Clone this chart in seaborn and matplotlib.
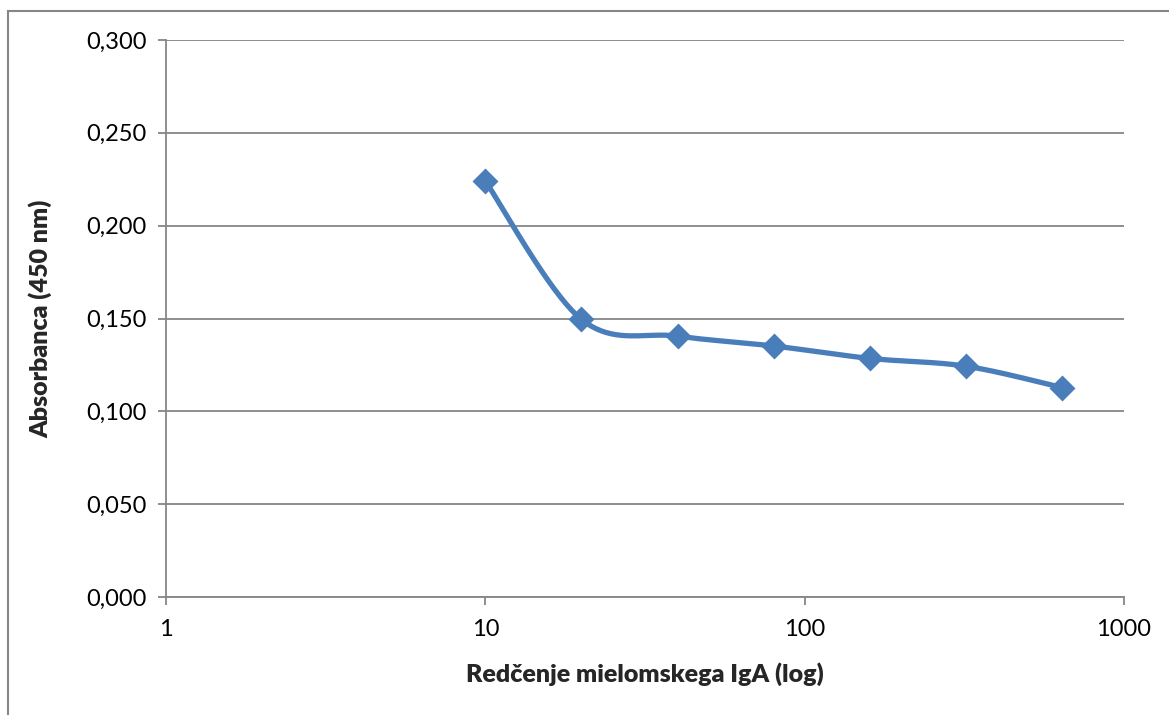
import numpy as np
import pandas as pd
import matplotlib
matplotlib.use("Agg")
import matplotlib.pyplot as plt
from matplotlib.patches import Rectangle
import seaborn as sns

# Dilution series and measured absorbance
dilution = [10, 20, 40, 80, 160, 320, 640]
absorbance = [0.224, 0.1495, 0.1405, 0.1352, 0.1285, 0.1243, 0.1128]
y_ticks = [0.0, 0.05, 0.10, 0.15, 0.20, 0.25, 0.30]
x_ticks = [1, 10, 100, 1000]
x_label = "Redčenje mielomskega IgA (log)"
y_label = "Absorbanca (450 nm)"

df = pd.DataFrame({"dilution": dilution, "absorbance": absorbance})

sns.set_theme(style="white")
plt.rcParams["font.family"] = ["Lato", "DejaVu Sans"]

W, H, DPI = 1169, 715, 100
fig = plt.figure(figsize=(W / DPI, H / DPI), dpi=DPI)
ax = fig.add_axes([166 / W, 1 - 597 / H, (1124 - 166) / W, (597 - 40) / H])

line_color = "#4A7EBB"
grid_color = "#868686"

ax.set_xscale("log")
ax.set_xlim(1, 1000)
ax.set_ylim(0, 0.30)

# Markers through seaborn
sns.scatterplot(data=df, x="dilution", y="absorbance", ax=ax, marker="D",
                s=175, color=line_color, edgecolor=line_color, linewidth=0,
                zorder=4, legend=False)

# Smoothed connecting line (Catmull-Rom Bezier in display space)
fig.canvas.draw()
pts = ax.transData.transform(np.column_stack([dilution, absorbance]))
n = len(pts)
curve = []
t = np.linspace(0, 1, 40)
for i in range(n - 1):
    p0 = pts[i - 1] if i > 0 else pts[i]
    p1 = pts[i]
    p2 = pts[i + 1]
    p3 = pts[i + 2] if i + 2 < n else pts[i + 1]
    c1 = p1 + (p2 - p0) / 6.0
    c2 = p2 - (p3 - p1) / 6.0
    seg = ((1 - t) ** 3)[:, None] * p1 + (3 * (1 - t) ** 2 * t)[:, None] * c1 \
        + (3 * (1 - t) * t ** 2)[:, None] * c2 + (t ** 3)[:, None] * p2
    curve.append(seg if i == 0 else seg[1:])
curve = np.vstack(curve)
data_curve = ax.transData.inverted().transform(curve)
ax.plot(data_curve[:, 0], data_curve[:, 1], color=line_color, lw=3.8,
        solid_capstyle="round", zorder=3)

# Axes styling
ax.set_yticks(y_ticks)
ax.set_yticklabels([f"{v:.3f}".replace(".", ",") for v in y_ticks])
ax.set_xticks(x_ticks)
ax.set_xticklabels([str(v) for v in x_ticks])
ax.xaxis.set_minor_locator(matplotlib.ticker.NullLocator())
ax.grid(axis="y", color=grid_color, lw=1.3)
ax.grid(axis="x", visible=False)
ax.set_axisbelow(True)
for side in ["top", "right"]:
    ax.spines[side].set_visible(False)
for side in ["left", "bottom"]:
    ax.spines[side].set_color(grid_color)
    ax.spines[side].set_linewidth(1.3)
ax.tick_params(axis="both", which="major", length=6, width=1.3, color=grid_color,
               labelsize=17, labelcolor="black", direction="out")
ax.tick_params(axis="y", pad=8)
ax.tick_params(axis="x", pad=10)
ax.tick_params(left=True, bottom=True)

ax.set_xlabel(x_label, fontsize=18, fontweight="heavy", labelpad=16)
ax.set_ylabel(y_label, fontsize=18, fontweight="heavy", labelpad=24)

# Outer chart frame
fig.patches.append(Rectangle((8 / W, -0.05), 1.2, 1 - 11 / H + 0.05,
                             transform=fig.transFigure, fill=False,
                             edgecolor=grid_color, lw=1.5))

fig.savefig("out.png", dpi=DPI)
